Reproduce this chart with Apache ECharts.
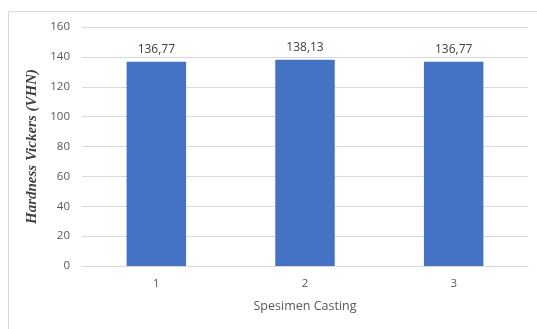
<!DOCTYPE html>
<html><head><meta charset="utf-8">
<script src="https://cdn.jsdelivr.net/npm/echarts@6/dist/echarts.min.js"></script>
<style>html,body{margin:0;padding:0;background:#fff}#c{width:537px;height:329px}</style>
</head><body><div id="c"></div>
<script>
const categories = ['1', '2', '3'];
const hardness = [136.77, 138.13, 136.77];
const yTicks = { min: 0, max: 160, interval: 20 };

const chart = echarts.init(document.getElementById('c'), null, { renderer: 'canvas' });
chart.setOption({
  animation: false,
  backgroundColor: '#ffffff',
  graphic: [
    { type: 'polyline', shape: { points: [[8.5, 340], [8.5, 11.5], [540, 11.5]] },
      style: { stroke: '#d9d9d9', lineWidth: 1, fill: null }, silent: true }
  ],
  grid: { left: 82, right: 9, top: 27, bottom: 63 },
  xAxis: {
    type: 'category', data: categories,
    name: 'Spesimen Casting', nameLocation: 'middle', nameGap: 34,
    nameTextStyle: { fontFamily: 'Open Sans', fontSize: 12.5, color: '#595959' },
    axisLine: { show: true, lineStyle: { color: '#d9d9d9' } },
    axisTick: { show: false },
    axisLabel: { fontFamily: 'Open Sans', fontSize: 11.5, color: '#595959', margin: 12 }
  },
  yAxis: {
    type: 'value', min: yTicks.min, max: yTicks.max, interval: yTicks.interval,
    name: 'Hardness Vickers (VHN)', nameLocation: 'middle', nameGap: 38,
    nameTextStyle: { fontFamily: 'Liberation Serif', fontSize: 15, fontWeight: 'bold', fontStyle: 'italic', color: '#404040' },
    axisLine: { show: false }, axisTick: { show: false },
    splitLine: { lineStyle: { color: '#d9d9d9', width: 1 } },
    axisLabel: { fontFamily: 'Open Sans', fontSize: 11.5, color: '#595959', margin: 12 }
  },
  series: [{
    type: 'bar', data: hardness, barWidth: '40%',
    itemStyle: { color: '#4472C4' },
    label: { show: true, position: 'top', distance: 6, fontFamily: 'Open Sans', fontSize: 12, color: '#404040',
      formatter: p => p.value.toFixed(2).replace('.', ',') }
  }]
});
</script></body></html>
